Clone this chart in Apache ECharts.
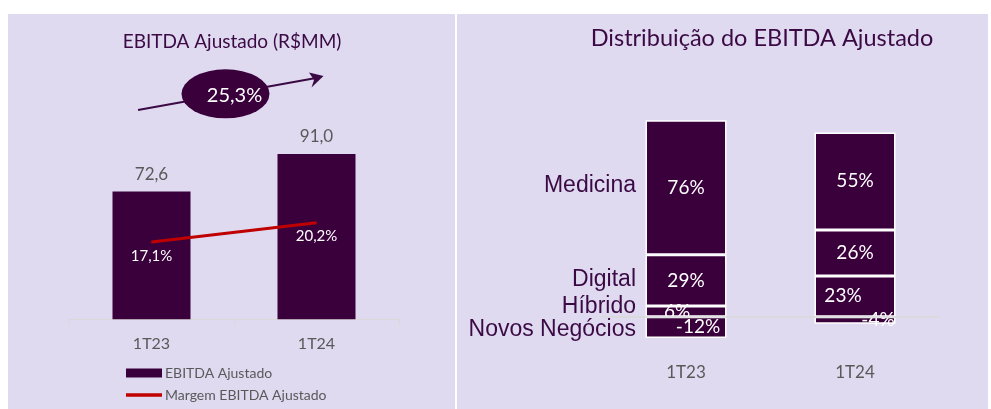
<!DOCTYPE html>
<html><head><meta charset="utf-8">
<script src="https://cdn.jsdelivr.net/npm/echarts@6/dist/echarts.min.js"></script>
<style>html,body{margin:0;padding:0;background:#fff;}#c{width:991px;height:409px;}</style>
</head><body><div id="c"></div>
<script>
// ---- data ----
const leftCategories = ['1T23', '1T24'];
const ebitdaValues = [72.6, 91.0];
const margemValues = [17.1, 20.2];
const growthLabel = '25,3%';

const rightCategories = ['1T23', '1T24'];
const segmentNames = ['Novos Negócios', 'Híbrido', 'Digital', 'Medicina'];
const novosValues = [-12, -4];
const hibridoValues = [6, 23];
const digitalValues = [29, 26];
const medicinaValues = [76, 55];

// ---- styles ----
const FONT = 'Lato';
const PURPLE = '#3a003c';
const TITLE = '#3b0a45';
const GRAY = '#595959';
const PANEL = '#dfdaf0';
const fmt1 = v => v.toFixed(1).replace('.', ',');

const segValues = [novosValues, hibridoValues, digitalValues, medicinaValues];
// label offsets per segment [1T23, 1T24] (styling only)
const segLabelOffsets = [
  [[12, 0], [23, 0]],
  [[-9, 0], [-12, 0]],
  [[0, 0], [0, 0]],
  [[0, 0], [0, 0]]
];
const nameOffsets = [[0, 2], [0, -5], [0, -1], [0, -2]];

// middle of each 1T23 segment, from the stacked values
function segmentMid(si, ci) {
  const v = segValues[si][ci];
  let base = 0;
  for (let k = 0; k < si; k++) {
    const w = segValues[k][ci];
    if ((w >= 0) === (v >= 0)) base += w;
  }
  return base + v / 2;
}

const rightSeries = segmentNames.map((name, si) => ({
  name: name,
  type: 'bar',
  stack: 'dist',
  xAxisIndex: 1, yAxisIndex: 2,
  barWidth: 81,
  itemStyle: { color: PURPLE, borderColor: '#ffffff', borderWidth: 1.5 },
  label: { show: true, position: 'inside', color: '#ffffff', fontFamily: FONT, fontSize: 19,
           formatter: p => p.value + '%' },
  data: segValues[si].map((v, ci) => ({ value: v, label: { offset: segLabelOffsets[si][ci] } })),
  markLine: si === 0 ? {
    silent: true, symbol: 'none', label: { show: false },
    lineStyle: { color: '#d9d9d9', width: 1.5, type: 'solid' },
    data: [{ yAxis: 0 }], z: 10
  } : undefined
}));

const option = {
  animation: false,
  backgroundColor: '#ffffff',
  textStyle: { fontFamily: FONT },
  graphic: [
    { type: 'rect', z: -10, shape: { x: 8, y: 14, width: 447, height: 395 }, style: { fill: PANEL } },
    { type: 'rect', z: -10, shape: { x: 457, y: 14, width: 531, height: 395 }, style: { fill: PANEL } },
    { type: 'text', x: 232, y: 42, style: { text: 'EBITDA Ajustado (R$MM)', fill: TITLE, font: '19px Lato', align: 'center', verticalAlign: 'middle' } },
    { type: 'text', x: 762, y: 38, style: { text: 'Distribuição do EBITDA Ajustado', fill: TITLE, font: '23.5px Lato', align: 'center', verticalAlign: 'middle' } },
    { type: 'line', shape: { x1: 138, y1: 110, x2: 316, y2: 78 }, style: { stroke: TITLE, lineWidth: 2 } },
    { type: 'polygon', shape: { points: [[323.5, 76], [309, 72.5], [314, 80], [311.5, 87.5]] }, style: { fill: TITLE } },
    { type: 'circle', x: 225.5, y: 93.8, scaleY: 0.557, shape: { cx: 0, cy: 0, r: 44 }, style: { fill: PURPLE } },
    { type: 'text', x: 234.5, y: 96, style: { text: growthLabel, fill: '#ffffff', font: '20px Lato', align: 'center', verticalAlign: 'middle' } }
  ],
  legend: {
    orient: 'vertical', left: 126, top: 366, itemGap: 8, padding: 0,
    itemWidth: 36, itemHeight: 9, symbolKeepAspect: true,
    textStyle: { color: GRAY, fontFamily: FONT, fontSize: 14, padding: [0, 0, 0, -2] },
    data: [
      { name: 'EBITDA Ajustado', icon: 'rect' },
      { name: 'Margem EBITDA Ajustado', icon: 'path://M0,0L36,0L36,3.5L0,3.5Z' }
    ],
    selectedMode: false
  },
  grid: [
    { left: 69, right: 592, top: 135.7, bottom: 89.7 },
    { left: 601.5, right: 51.5, top: 104.3, bottom: 56.9 }
  ],
  xAxis: [
    { type: 'category', gridIndex: 0, data: leftCategories,
      axisLine: { lineStyle: { color: '#d9d9d9', width: 1 } },
      axisTick: { show: true, length: 6, lineStyle: { color: '#d9d9d9' } },
      axisLabel: { color: GRAY, fontFamily: FONT, fontSize: 16, margin: 17 } },
    { type: 'category', gridIndex: 1, data: rightCategories,
      axisLine: { show: false, onZero: false }, axisTick: { show: false },
      axisLabel: { color: GRAY, fontFamily: FONT, fontSize: 17, margin: 12 } }
  ],
  yAxis: [
    { type: 'value', gridIndex: 0, min: 10, max: 100, show: false },
    { type: 'value', gridIndex: 0, min: 4.75, max: 34.1, show: false },
    { type: 'value', gridIndex: 1, min: -20, max: 120, show: false }
  ],
  series: [
    { name: 'EBITDA Ajustado', type: 'bar', xAxisIndex: 0, yAxisIndex: 0, barWidth: 78,
      itemStyle: { color: PURPLE },
      label: { show: true, position: 'top', distance: 9, color: GRAY, fontFamily: FONT, fontSize: 17,
               formatter: p => fmt1(p.value) },
      data: ebitdaValues },
    { name: 'Margem EBITDA Ajustado', type: 'line', xAxisIndex: 0, yAxisIndex: 1,
      symbol: 'circle', symbolSize: 1, z: 5,
      itemStyle: { color: '#c00000' },
      lineStyle: { color: '#c00000', width: 3 },
      label: { show: true, position: 'bottom', distance: 6, color: '#ffffff', fontFamily: FONT, fontSize: 15,
               formatter: p => fmt1(p.value) + '%' },
      data: margemValues },
    ...rightSeries,
    { name: 'names', type: 'scatter', xAxisIndex: 1, yAxisIndex: 2, symbolSize: 0, silent: true,
      itemStyle: { opacity: 1 },
      label: { show: true, position: 'left', distance: 50, color: TITLE, fontFamily: 'Liberation Sans', fontSize: 23,
               formatter: p => p.name },
      data: segmentNames.map((n, si) => ({ name: n, value: [0, segmentMid(si, 0)], label: { offset: nameOffsets[si] } })) }
  ]
};

const chart = echarts.init(document.getElementById('c'), null, { renderer: 'canvas' });
chart.setOption(option);
</script>
</body></html>
